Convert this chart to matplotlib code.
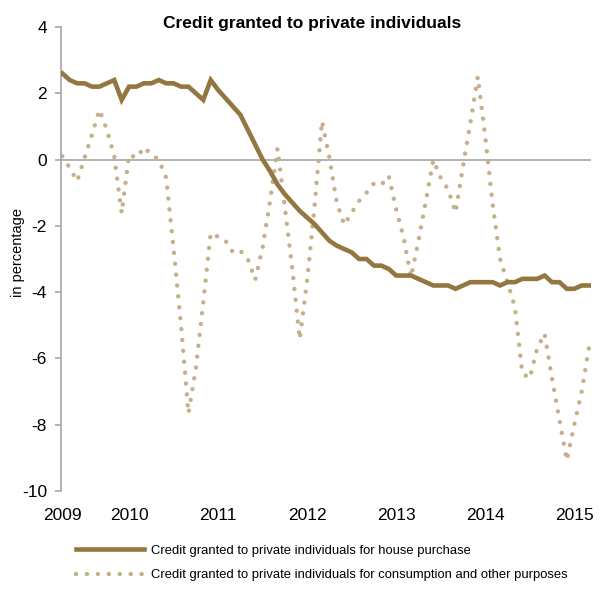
import matplotlib
matplotlib.use("Agg")
import matplotlib.pyplot as plt
from matplotlib import font_manager
from matplotlib.lines import Line2D

# monthly values, Apr 2009 .. Mar 2015
house_purchase = [
    2.6, 2.4, 2.3, 2.3, 2.2, 2.2, 2.3, 2.4, 1.8, 2.2, 2.2, 2.3,
    2.3, 2.4, 2.3, 2.3, 2.2, 2.2, 2.0, 1.8, 2.4, 2.1, 1.85, 1.6,
    1.35, 0.9, 0.45, 0.0, -0.35, -0.75, -1.05, -1.3, -1.55, -1.75, -1.95, -2.2,
    -2.45, -2.6, -2.7, -2.8, -3.0, -3.0, -3.2, -3.2, -3.3, -3.5, -3.5, -3.5,
    -3.6, -3.7, -3.8, -3.8, -3.8, -3.9, -3.8, -3.7, -3.7, -3.7, -3.7, -3.8,
    -3.7, -3.7, -3.6, -3.6, -3.6, -3.5, -3.7, -3.7, -3.9, -3.9, -3.8, -3.8,
]
consumption = [
    0.1, -0.25, -0.65, 0.05, 0.75, 1.5, 0.9, 0.1, -1.62, 0.15, 0.05, 0.37,
    0.15, 0.0, -0.55, -2.7, -5.0, -7.66, -6.3, -4.3, -2.22, -2.33, -2.45, -2.8,
    -2.75, -3.0, -3.63, -2.65, -1.25, 0.33, -1.45, -3.3, -5.42, -3.65, -1.4, 1.16,
    0.05, -1.3, -1.97, -1.6, -1.25, -1.0, -0.72, -0.77, -0.49, -1.5, -2.35, -3.55,
    -2.45, -1.25, -0.01, -0.55, -0.9, -1.6, -0.2, 1.1, 2.5, 0.7, -1.35, -3.0,
    -3.7, -4.45, -6.45, -6.6, -5.7, -5.25, -6.6, -7.85, -9.08, -8.0, -7.0, -5.65,
]
year_labels = ["2009", "2010", "2011", "2012", "2013", "2014", "2015"]
year_pos = [0, 9, 21, 33, 45, 57, 69]  # month index where each label sits

HOUSE_COLOR = "#937640"
CONS_COLOR = "#C6B08B"
AXIS_COLOR = "#A6A6A6"
DOTS = (0, (0.01, 2.45))

available = {f.name for f in font_manager.fontManager.ttflist}
font = "DejaVu Sans"
for cand in ["Liberation Sans Narrow", "Arial Narrow", "DejaVu Sans Condensed", "Liberation Sans"]:
    if cand in available:
        font = cand
        break
plt.rcParams["font.family"] = [font, "DejaVu Sans"]
plt.rcParams["axes.unicode_minus"] = False

months = list(range(len(house_purchase)))

fig = plt.figure(figsize=(6.04, 5.97), dpi=100)
ax = fig.add_axes([0.1007, 0.1776, 0.8783, 0.7772])

ax.axhline(0, color=AXIS_COLOR, lw=1.2, zorder=1)
ax.plot(months, consumption, color=CONS_COLOR, lw=3.2, linestyle=DOTS,
        dash_capstyle="round", zorder=2)
ax.plot(months, house_purchase, color=HOUSE_COLOR, lw=3.3, solid_joinstyle="miter",
        zorder=3)

ax.set_xlim(-0.2, 71.3)
ax.set_ylim(-10, 4)
ax.set_yticks(range(-10, 5, 2))
ax.set_xticks(year_pos)
ax.set_xticklabels(year_labels)

for side in ["top", "right", "bottom"]:
    ax.spines[side].set_visible(False)
ax.spines["left"].set_color(AXIS_COLOR)
ax.spines["left"].set_linewidth(1.2)
ax.tick_params(axis="y", direction="out", length=4, width=1.2, color=AXIS_COLOR,
               labelsize=12.5, pad=6)
ax.tick_params(axis="x", length=0, labelsize=12.5, pad=12)

ax.set_ylabel("in percentage", fontsize=10.5, va="center")
ax.yaxis.set_label_coords(-0.081, 0.513)

fig.text(0.5166, 0.96, "Credit granted to private individuals", fontsize=12.5,
         fontweight="bold", ha="center", va="center")

handles = [
    Line2D([], [], color=HOUSE_COLOR, lw=3.3),
    Line2D([], [], color=CONS_COLOR, lw=3.2, linestyle=DOTS, dash_capstyle="round"),
]
labels = [
    "Credit granted to private individuals for house purchase",
    "Credit granted to private individuals for consumption and other purposes",
]
fig.legend(handles, labels, loc="upper left", bbox_to_anchor=(0.126, 0.088),
           frameon=False, fontsize=9.4, handlelength=5.2, handletextpad=0.5,
           labelspacing=0.95, borderpad=0, borderaxespad=0)

fig.savefig("out.png", dpi=100)
